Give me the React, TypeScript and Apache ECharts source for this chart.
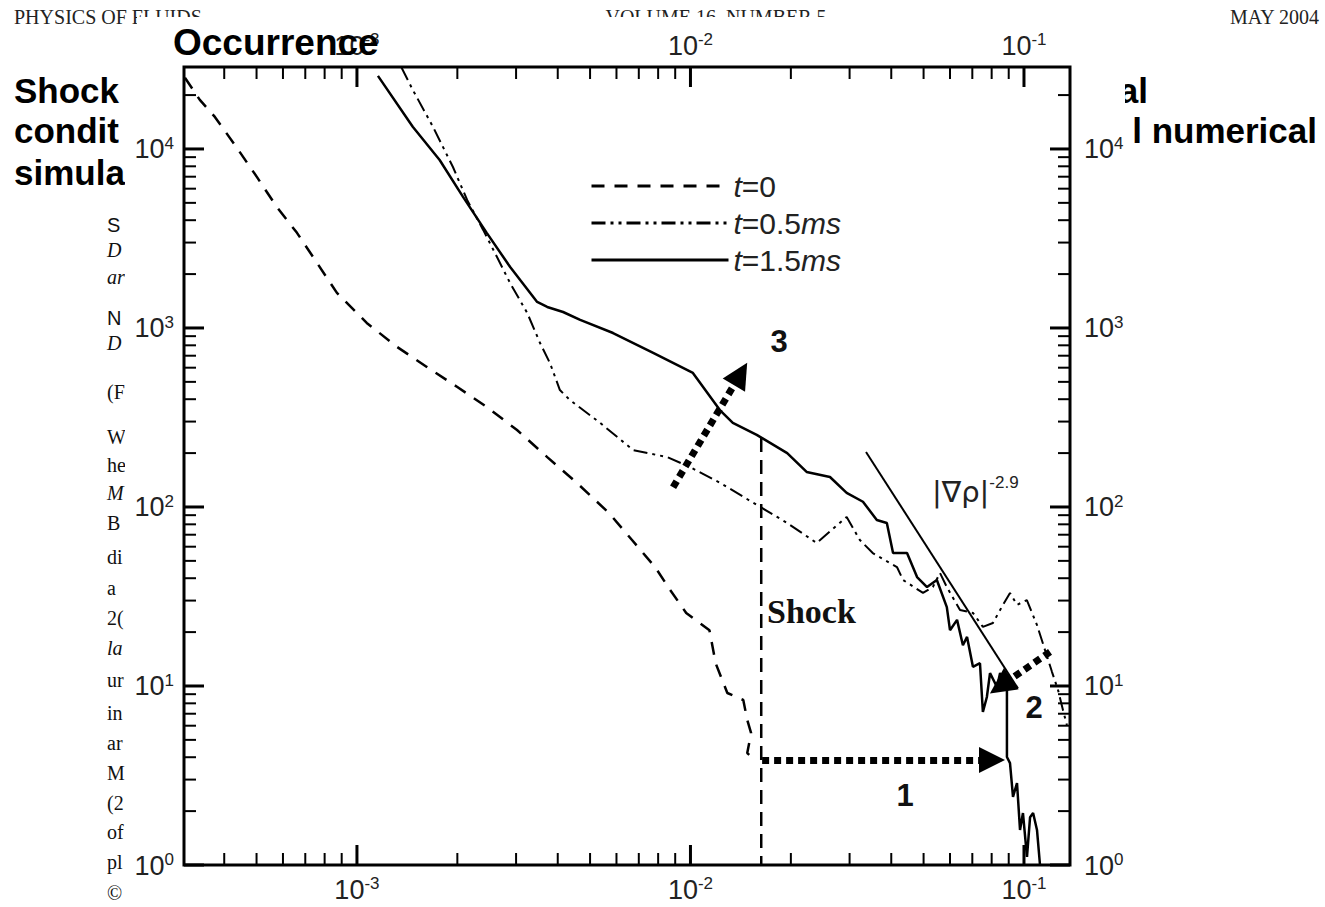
import React, { useEffect, useRef } from 'react';
import * as echarts from 'echarts';

// ---- axis extents ----
const X_MIN = 3.03e-4;
const X_MAX = 0.1374;
const Y_MIN = 1;
const Y_MAX = 28700;

// ---- series values ----
const t0Data: number[][] = [
  [3.05e-4, 25000], [3.38e-4, 18800], [3.75e-4, 15100], [4.31e-4, 10500], [5.01e-4, 6980],
  [5.75e-4, 4740], [6.61e-4, 3400], [7.59e-4, 2310], [8.71e-4, 1570], [1.07e-3, 1067],
  [1.32e-3, 783], [1.62e-3, 606], [2.0e-3, 468], [2.45e-3, 362], [3.02e-3, 269],
  [3.72e-3, 190], [4.57e-3, 136], [5.7e-3, 92.5], [6.68e-3, 65.4], [7.83e-3, 46.2],
  [8.69e-3, 34.4], [9.71e-3, 25.6], [1.14e-2, 20.5], [1.19e-2, 13.4], [1.29e-2, 9.14],
  [1.44e-2, 8.35], [1.48e-2, 6.46], [1.52e-2, 5.46], [1.48e-2, 4.22], [1.56e-2, 3.86],
];

const t05Data: number[][] = [
  [1.36e-3, 28500], [1.47e-3, 21400], [1.69e-3, 13300], [1.94e-3, 7930], [2.14e-3, 5190],
  [2.39e-3, 3530], [2.63e-3, 2490], [2.88e-3, 1780], [3.24e-3, 1213], [3.54e-3, 824],
  [3.79e-3, 637], [4.06e-3, 450], [4.35e-3, 396], [5.36e-3, 295], [6.73e-3, 208],
  [8.51e-3, 190], [9.98e-3, 167], [1.23e-2, 136], [1.62e-2, 100], [1.95e-2, 81.4],
  [2.39e-2, 62.9], [2.94e-2, 87.9], [3.22e-2, 65.4], [3.52e-2, 55.3], [4.16e-2, 46.2],
  [4.34e-2, 39.1], [4.98e-2, 33.1], [5.33e-2, 35.7], [5.6e-2, 42.8], [5.87e-2, 35.7],
  [6.43e-2, 26.6], [7.03e-2, 25.6], [7.53e-2, 21.4], [8.07e-2, 22.5], [8.65e-2, 28.4],
  [9.08e-2, 33.1], [9.53e-2, 28.4], [1.02e-1, 30.2], [1.094e-1, 21.9], [1.156e-1, 15.9],
  [1.213e-1, 12.0], [1.265e-1, 9.5], [1.31e-1, 7.3], [1.345e-1, 6.05],
];

const t15Data: number[][] = [
  [1.156e-3, 25600], [1.47e-3, 13300], [1.77e-3, 8680], [2.08e-3, 5400], [2.45e-3, 3400],
  [2.88e-3, 2190], [3.47e-3, 1397], [3.72e-3, 1310], [4.15e-3, 1228], [4.67e-3, 1109],
  [5.86e-3, 937], [7.73e-3, 725], [1.017e-2, 561], [1.225e-2, 348], [1.34e-2, 295],
  [1.58e-2, 253], [1.95e-2, 200], [2.23e-2, 157], [2.62e-2, 147], [2.94e-2, 120],
  [3.29e-2, 107], [3.62e-2, 84.6], [3.88e-2, 81.4], [4.05e-2, 55.3], [4.46e-2, 55.3],
  [4.78e-2, 40.6], [5.12e-2, 35.7], [5.48e-2, 39.1], [5.87e-2, 27.6], [6.0e-2, 20.5],
  [6.3e-2, 23.4], [6.56e-2, 16.9], [6.75e-2, 18.8], [7.03e-2, 12.8], [7.38e-2, 13.4],
  [7.53e-2, 7.16], [7.74e-2, 8.68], [7.91e-2, 11.8], [8.3e-2, 9.87], [8.48e-2, 11.8],
  [8.89e-2, 9.87], [8.89e-2, 4.01], [9.08e-2, 3.71], [9.27e-2, 2.4], [9.53e-2, 2.87],
  [9.73e-2, 1.57], [9.93e-2, 1.95], [1.021e-1, 1.11], [1.043e-1, 1.85], [1.065e-1, 1.95],
  [1.094e-1, 1.57], [1.117e-1, 1.0],
];

const powerLawData: number[][] = [[0.0336, 203], [0.0959, 9.7]];
const shockData: number[][] = [[0.0163, 243], [0.0163, 1]];
const arrow1: number[][] = [[0.0164, 3.86], [0.0802, 3.86]];
const arrow2: number[][] = [[0.1197, 15.5], [0.0851, 10.0]];
const arrow3: number[][] = [[0.00887, 129], [0.01413, 553]];

const legendNames = ['t=0', 't=0.5ms', 't=1.5ms'];
const legendLabels: Record<string, string> = {
  't=0': '{i|t}=0',
  't=0.5ms': '{i|t}=0.5{i|ms}',
  't=1.5ms': '{i|t}=1.5{i|ms}',
};

const xMajorTicks = [1e-3, 1e-2, 1e-1];
const xMinorTicks = [
  4e-4, 5e-4, 6e-4, 7e-4, 8e-4, 9e-4,
  2e-3, 3e-3, 4e-3, 5e-3, 6e-3, 7e-3, 8e-3, 9e-3,
  2e-2, 3e-2, 4e-2, 5e-2, 6e-2, 7e-2, 8e-2, 9e-2,
];
const yMajorTicks = [1, 10, 100, 1000, 10000];
const yMinorTicks = [
  2, 3, 4, 5, 6, 7, 8, 9,
  20, 30, 40, 50, 60, 70, 80, 90,
  200, 300, 400, 500, 600, 700, 800, 900,
  2000, 3000, 4000, 5000, 6000, 7000, 8000, 9000,
  20000,
];

// ---- page decoration (journal page behind the figure) ----
const headerTexts = ['PHYSICS OF FLUIDS', 'VOLUME 16, NUMBER 5', 'MAY 2004'];
const titleLeft = ['Shock', 'condit', 'simula'];
const titleRight = ['al', 'l numerical'];
const columnTexts: [string, number, string][] = [
  ['S', 225, 'sans'], ['D', 250, 'it'], ['ar', 277, 'it'], ['N', 318, 'sans'], ['D', 343, 'it'],
  ['(F', 392, ''], ['W', 437, ''], ['he', 465, ''], ['M', 493, 'it'], ['B', 523, ''],
  ['di', 557, ''], ['a', 588, ''], ['2(', 618, ''], ['la', 648, 'it'], ['ur', 680, ''],
  ['in', 713, ''], ['ar', 743, ''], ['M', 773, ''], ['(2', 803, ''], ['of', 832, ''],
  ['pl', 862, ''], ['©', 893, ''],
];

const SANS = '"Liberation Sans", Arial, Helvetica, sans-serif';
const SERIF = '"Liberation Serif", "Times New Roman", serif';

function powLabel(v: number): string {
  const l = Math.log10(v);
  const e = Math.round(l);
  if (Math.abs(l - e) > 1e-6) return '';
  return `{b|10}{s|${e}}`;
}

const labelRich = {
  b: { fontSize: 27, fontFamily: SANS, color: '#222', lineHeight: 28, verticalAlign: 'bottom' },
  s: { fontSize: 17, fontFamily: SANS, color: '#222', lineHeight: 17, verticalAlign: 'top' },
};

function makeAxis(pos: string, min: number, max: number, margin: number) {
  return {
    type: 'log',
    logBase: 10,
    min,
    max,
    position: pos,
    axisLine: { show: false },
    axisTick: { show: false },
    splitLine: { show: false },
    minorTick: { show: false },
    minorSplitLine: { show: false },
    axisLabel: {
      show: true,
      margin,
      formatter: powLabel,
      rich: labelRich,
      color: '#222',
    },
  };
}

function tickRenderer(axis: 'x' | 'y') {
  return (params: any, api: any) => {
    const cs = params.coordSys;
    const major = api.value(2) === 1;
    const len = major ? 20 : 12;
    const lw = major ? 3 : 2;
    const p = api.coord([api.value(0), api.value(1)]);
    const style = { stroke: '#000', lineWidth: lw };
    if (axis === 'x') {
      const x = p[0];
      const yb = cs.y + cs.height;
      return {
        type: 'group',
        children: [
          { type: 'line', shape: { x1: x, y1: yb, x2: x, y2: yb - len }, style },
          { type: 'line', shape: { x1: x, y1: cs.y, x2: x, y2: cs.y + len }, style },
        ],
      };
    }
    const y = p[1];
    const xr = cs.x + cs.width;
    return {
      type: 'group',
      children: [
        { type: 'line', shape: { x1: cs.x, y1: y, x2: cs.x + len, y2: y }, style },
        { type: 'line', shape: { x1: xr, y1: y, x2: xr - len, y2: y }, style },
      ],
    };
  };
}

export default function App() {
  const ref = useRef<HTMLDivElement>(null);

  useEffect(() => {
    if (!ref.current) return;
    const chart = echarts.init(ref.current, undefined, { renderer: 'svg' });

    const graphics: any[] = [];
    // page texts
    const hx = [14, 716, 1319];
    const ha = ['left', 'center', 'right'];
    headerTexts.forEach((t, i) => {
      graphics.push({
        type: 'text', z: -10, x: hx[i], y: 17,
        style: { text: t, fontSize: 20, fontFamily: SERIF, fill: '#222', align: ha[i], verticalAlign: 'middle' },
      });
    });
    const ty = [90, 130, 172];
    titleLeft.forEach((t, i) => {
      graphics.push({
        type: 'text', z: -10, x: 14, y: ty[i],
        style: { text: t, fontSize: 35, fontWeight: 'bold', fontFamily: SANS, fill: '#000', align: 'left', verticalAlign: 'middle' },
      });
    });
    const rx = [1148, 1317];
    titleRight.forEach((t, i) => {
      graphics.push({
        type: 'text', z: -10, x: rx[i], y: ty[i],
        style: { text: t, fontSize: 35, fontWeight: 'bold', fontFamily: SANS, fill: '#000', align: 'right', verticalAlign: 'middle' },
      });
    });
    columnTexts.forEach(([t, y, kind]) => {
      graphics.push({
        type: 'text', z: -10, x: 107, y,
        style: {
          text: t, fontSize: 20,
          fontFamily: kind === 'sans' ? SANS : SERIF,
          fontStyle: kind === 'it' ? 'italic' : 'normal',
          fill: '#111', align: 'left', verticalAlign: 'middle',
        },
      });
    });
    // white figure area covering the page
    graphics.push({ type: 'rect', z: -5, shape: { x: 137, y: 17, width: 983, height: 890 }, style: { fill: '#fff' } });
    graphics.push({ type: 'rect', z: -5, shape: { x: 125, y: 60, width: 1000, height: 847 }, style: { fill: '#fff' } });

    // annotations
    graphics.push({
      type: 'text', z: 50, x: 767, y: 611,
      style: { text: 'Shock', fontSize: 34, fontWeight: 'bold', fontFamily: SERIF, fill: '#111', align: 'left', verticalAlign: 'middle' },
    });
    const nums: [string, number, number][] = [['3', 779, 341], ['1', 905, 795], ['2', 1034, 707]];
    nums.forEach(([t, x, y]) => {
      graphics.push({
        type: 'text', z: 50, x, y,
        style: { text: t, fontSize: 31, fontWeight: 'bold', fontFamily: SANS, fill: '#111', align: 'center', verticalAlign: 'middle' },
      });
    });
    graphics.push({
      type: 'text', z: 50, x: 932, y: 490,
      style: {
        text: '{a||∇ρ|}{s|-2.9}',
        align: 'left', verticalAlign: 'middle',
        rich: {
          a: { fontSize: 29, fontFamily: '"DejaVu Sans", ' + SANS, fill: '#222', color: '#222', lineHeight: 32, verticalAlign: 'bottom' },
          s: { fontSize: 17, fontFamily: SANS, fill: '#222', color: '#222', lineHeight: 16, verticalAlign: 'top' },
        },
      },
    });

    const lineBase = { type: 'line', symbol: 'none', showSymbol: false, silent: true, xAxisIndex: 0, yAxisIndex: 0 };

    const option: any = {
      animation: false,
      backgroundColor: '#fff',
      title: {
        text: 'Occurrence',
        left: 168,
        top: 19,
        textStyle: { fontSize: 37, fontWeight: 'bold', fontFamily: SANS, color: '#000' },
      },
      grid: {
        show: true,
        left: 184,
        right: 255,
        top: 67,
        bottom: 42,
        borderColor: '#000',
        borderWidth: 3,
        backgroundColor: 'transparent',
        containLabel: false,
      },
      legend: {
        data: legendNames,
        orient: 'vertical',
        left: 585,
        top: 166,
        itemWidth: 137,
        itemHeight: 14,
        itemGap: 7,
        selectedMode: false,
        itemStyle: { opacity: 0 },
        lineStyle: { width: 3 },
        formatter: (n: string) => legendLabels[n] || n,
        textStyle: {
          fontSize: 30,
          fontFamily: SANS,
          color: '#222',
          lineHeight: 30,
          rich: { i: { fontStyle: 'italic', fontSize: 30, fontFamily: SANS, color: '#222' } },
        },
      },
      xAxis: [makeAxis('bottom', X_MIN, X_MAX, 10), makeAxis('top', X_MIN, X_MAX, 8)],
      yAxis: [makeAxis('left', Y_MIN, Y_MAX, 10), makeAxis('right', Y_MIN, Y_MAX, 14)],
      graphic: graphics,
      series: [
        { ...lineBase, name: 't=0', data: t0Data, lineStyle: { color: '#000', width: 2.5, type: [13, 10] }, itemStyle: { color: '#000' } },
        { ...lineBase, name: 't=0.5ms', data: t05Data, lineStyle: { color: '#000', width: 2, type: [14, 5, 3, 5, 3, 5] }, itemStyle: { color: '#000' } },
        { ...lineBase, name: 't=1.5ms', data: t15Data, lineStyle: { color: '#000', width: 2.5, type: 'solid' }, itemStyle: { color: '#000' } },
        { ...lineBase, name: 'power law', data: powerLawData, lineStyle: { color: '#000', width: 2, type: 'solid' } },
        { ...lineBase, name: 'shock', data: shockData, lineStyle: { color: '#000', width: 2.5, type: [14, 8] } },
        {
          ...lineBase,
          name: 'arrows',
          data: [],
          markLine: {
            silent: true,
            symbol: ['none', 'triangle'],
            symbolSize: 26,
            label: { show: false },
            lineStyle: { color: '#000', width: 7, type: [7, 5], cap: 'butt' },
            itemStyle: { color: '#000' },
            emphasis: { disabled: true },
            data: [
              [{ coord: arrow1[0] }, { coord: arrow1[1] }],
              [{ coord: arrow2[0] }, { coord: arrow2[1] }],
              [{ coord: arrow3[0] }, { coord: arrow3[1] }],
            ],
          },
        },
        {
          type: 'custom',
          name: 'xticks',
          silent: true,
          clip: false,
          renderItem: tickRenderer('x'),
          encode: { x: 0, y: 1 },
          data: [
            ...xMajorTicks.map((v) => [v, Y_MIN, 1]),
            ...xMinorTicks.map((v) => [v, Y_MIN, 0]),
          ],
          z: 5,
        },
        {
          type: 'custom',
          name: 'yticks',
          silent: true,
          clip: false,
          renderItem: tickRenderer('y'),
          encode: { x: 0, y: 1 },
          data: [
            ...yMajorTicks.map((v) => [X_MIN, v, 1]),
            ...yMinorTicks.map((v) => [X_MIN, v, 0]),
          ],
          z: 5,
        },
      ],
    };

    chart.setOption(option);
    return () => chart.dispose();
  }, []);

  return (
    <div
      ref={ref}
      style={{ position: 'absolute', left: 0, top: 0, width: 1325, height: 907 }}
    />
  );
}
